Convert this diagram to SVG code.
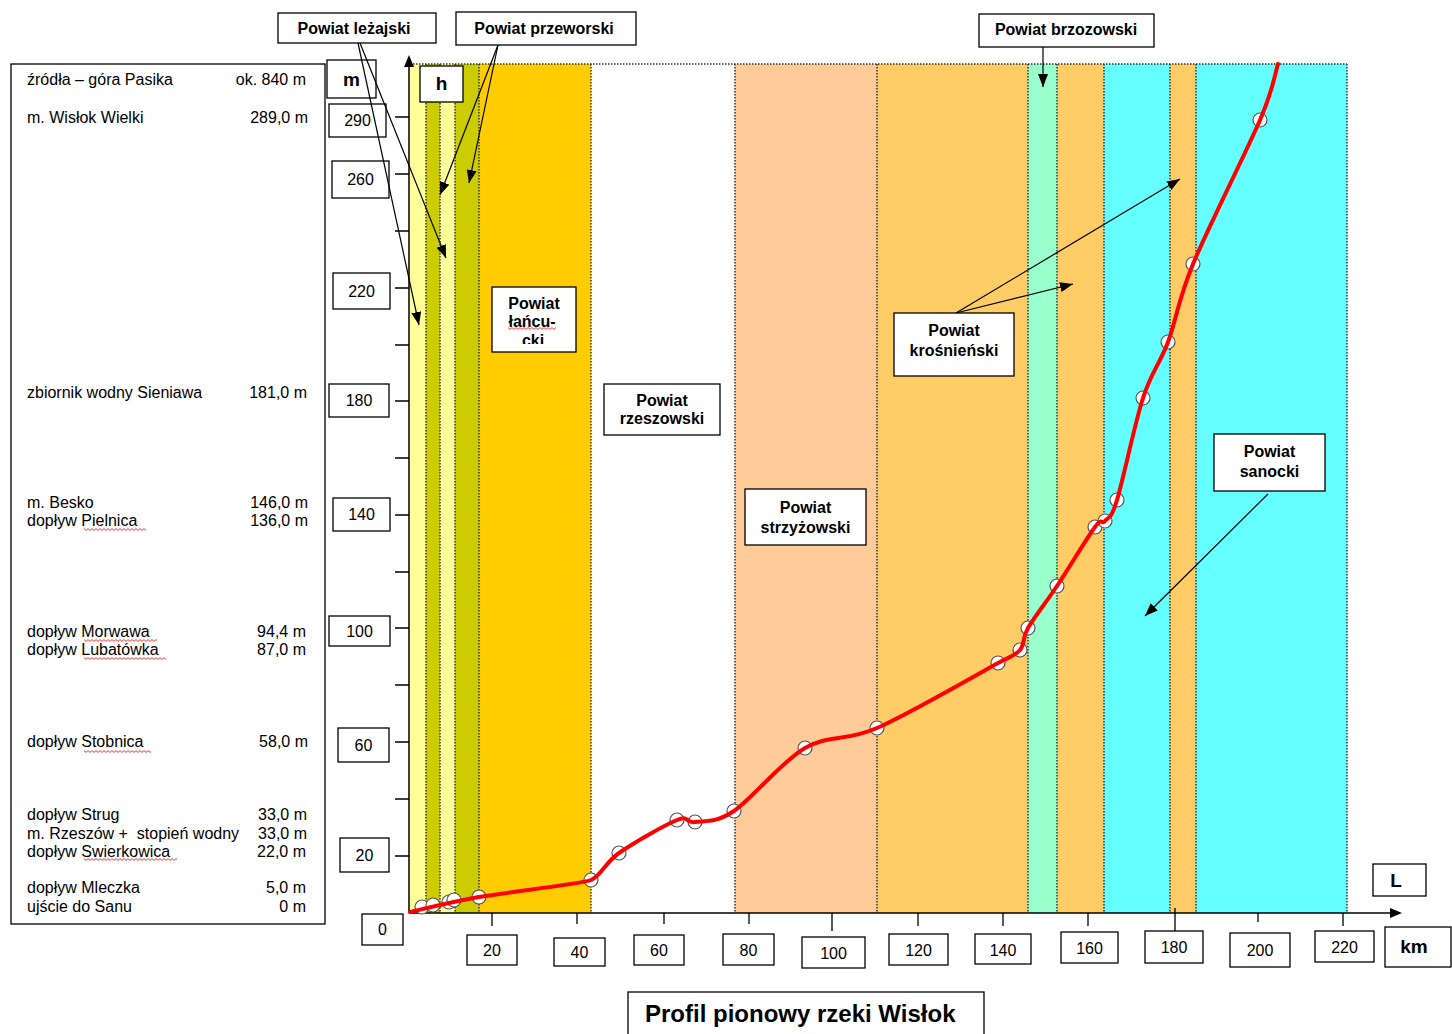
<svg xmlns="http://www.w3.org/2000/svg" width="1452" height="1034" viewBox="0 0 1452 1034">
<style>
.t{font-family:"Liberation Sans",Arial,sans-serif;font-size:16px;fill:#000}
.r{text-anchor:end}
.n{font-family:"Liberation Sans",Arial,sans-serif;font-size:16px;fill:#000;text-anchor:middle}
.b{font-family:"Liberation Sans",Arial,sans-serif;font-size:16px;font-weight:bold;fill:#000;text-anchor:middle}
.big{font-family:"Liberation Sans",Arial,sans-serif;font-size:19px;font-weight:bold;fill:#000;text-anchor:middle}
.box{fill:#fff;stroke:#000;stroke-width:1.3}
.dot{stroke:#333;stroke-width:1.5;stroke-dasharray:1.5 1.5;fill:none}
.ax{stroke:#000;stroke-width:1.5;fill:none}
.tk{stroke:#000;stroke-width:1.3}
.con{stroke:#000;stroke-width:1.2;fill:none;marker-end:url(#ah)}
.pt{fill:#fff;stroke:#555;stroke-width:1.2}
.wv{fill:url(#wavy)}
</style>
<defs>
<marker id="ah" markerUnits="userSpaceOnUse" markerWidth="14" markerHeight="12" refX="13" refY="5" orient="auto">
<path d="M0,0 L13,5 L0,10 Z" fill="#000"/>
</marker>
<pattern id="wavy" width="4" height="3" patternUnits="userSpaceOnUse">
<path d="M0,0.6 L2,2.4 L4,0.6" stroke="#e00" stroke-width="0.8" fill="none"/>
</pattern>
<clipPath id="clipL"><rect x="492" y="287" width="84" height="57"/></clipPath>
</defs>

<!-- bands -->
<g id="bands">
<rect x="410" y="64" width="16" height="849" fill="#FFFF99"/>
<rect x="426" y="64" width="14" height="849" fill="#CCCC00"/>
<rect x="440" y="64" width="15" height="849" fill="#FFFF99"/>
<rect x="455" y="64" width="24" height="849" fill="#CCCC00"/>
<rect x="479" y="64" width="112" height="849" fill="#FFCC00"/>
<rect x="591" y="64" width="144" height="849" fill="#FFFFFF"/>
<rect x="735" y="64" width="142" height="849" fill="#FFCC99"/>
<rect x="877" y="64" width="151" height="849" fill="#FFCC66"/>
<rect x="1028" y="64" width="29" height="849" fill="#99FFCC"/>
<rect x="1057" y="64" width="47" height="849" fill="#FFCC66"/>
<rect x="1104" y="64" width="66" height="849" fill="#66FFFF"/>
<rect x="1170" y="64" width="26" height="849" fill="#FFCC66"/>
<rect x="1196" y="64" width="151" height="849" fill="#66FFFF"/>
<path class="dot" d="M410,64 H1347 M426,64 V913 M440,64 V913 M455,64 V913 M479,64 V913 M591,64 V913 M735,64 V913 M877,64 V913 M1028,64 V913 M1057,64 V913 M1104,64 V913 M1170,64 V913 M1196,64 V913 M1347,64 V913"/>
</g>

<!-- left info box -->
<g id="info">
<rect class="box" x="11" y="64" width="314" height="860"/>
<text class="t" x="27" y="85">źródła – góra Pasika</text><text class="t r" x="306" y="85">ok. 840 m</text>
<text class="t" x="27" y="123">m. Wisłok Wielki</text><text class="t r" x="308" y="123">289,0 m</text>
<text class="t" x="27" y="398">zbiornik wodny Sieniawa</text><text class="t r" x="307" y="398">181,0 m</text>
<text class="t" x="27" y="508">m. Besko</text><text class="t r" x="308" y="508">146,0 m</text>
<text class="t" x="27" y="526">dopływ Pielnica</text><text class="t r" x="308" y="526">136,0 m</text>
<text class="t" x="27" y="637">dopływ Morwawa</text><text class="t r" x="306" y="637">94,4 m</text>
<text class="t" x="27" y="655">dopływ Lubatówka</text><text class="t r" x="306" y="655">87,0 m</text>
<text class="t" x="27" y="747">dopływ Stobnica</text><text class="t r" x="308" y="747">58,0 m</text>
<text class="t" x="27" y="820">dopływ Strug</text><text class="t r" x="307" y="820">33,0 m</text>
<text class="t" x="27" y="839" xml:space="preserve">m. Rzeszów +  stopień wodny</text><text class="t r" x="307" y="839">33,0 m</text>
<text class="t" x="27" y="857">dopływ Swierkowica</text><text class="t r" x="306" y="857">22,0 m</text>
<text class="t" x="27" y="893">dopływ Mleczka</text><text class="t r" x="306" y="893">5,0 m</text>
<text class="t" x="27" y="912">ujście do Sanu</text><text class="t r" x="306" y="912">0 m</text>
<rect class="wv" x="84" y="528" width="62" height="3"/>
<rect class="wv" x="84" y="639" width="73" height="3"/>
<rect class="wv" x="84" y="657" width="82" height="3"/>
<rect class="wv" x="84" y="750" width="67" height="3"/>
<rect class="wv" x="84" y="858" width="93" height="3"/>
</g>

<!-- axes -->
<g id="axes">
<path class="ax" d="M409,913 V64 M409,913 H1392"/>
<path d="M409,55 L404,67 L414,67 Z M1402,913 L1390,908 L1390,918 Z" fill="#000"/>
<path class="tk" d="M395,117 H409 M395,174 H409 M395,231 H409 M395,288 H409 M395,345 H409 M395,401 H409 M395,458 H409 M395,515 H409 M395,572 H409 M395,628 H409 M395,685 H409 M395,742 H409 M395,799 H409 M395,856 H409"/>
<path class="tk" d="M492,913 V926 M577,913 V924 M664,913 V924 M749,913 V924 M832,913 V931 M918,913 V926 M1003,913 V926 M1088,913 V926 M1175,908 V936 M1258,913 V922 M1343,913 V926"/>
</g>

<!-- y labels -->
<g id="ylabels">
<rect class="box" x="327" y="60" width="49" height="38"/><text class="big" x="351.5" y="86">m</text>
<rect class="box" x="329" y="104" width="57" height="33"/><text class="n" x="357.5" y="126">290</text>
<rect class="box" x="332" y="161" width="57" height="37"/><text class="n" x="360.5" y="185">260</text>
<rect class="box" x="333" y="273" width="57" height="36"/><text class="n" x="361.5" y="297">220</text>
<rect class="box" x="329" y="384" width="60" height="33"/><text class="n" x="359" y="406">180</text>
<rect class="box" x="333" y="498" width="57" height="33"/><text class="n" x="361.5" y="520">140</text>
<rect class="box" x="329" y="616" width="61" height="30"/><text class="n" x="359.5" y="637">100</text>
<rect class="box" x="338" y="728" width="51" height="34"/><text class="n" x="363.5" y="751">60</text>
<rect class="box" x="340" y="838" width="49" height="34"/><text class="n" x="364.5" y="861">20</text>
<rect class="box" x="362" y="914" width="41" height="31"/><text class="n" x="382.5" y="935">0</text>
</g>

<!-- x labels -->
<g id="xlabels">
<rect class="box" x="467" y="935" width="50" height="30"/><text class="n" x="492" y="956">20</text>
<rect class="box" x="554" y="938" width="51" height="28"/><text class="n" x="579.5" y="958">40</text>
<rect class="box" x="634" y="935" width="50" height="30"/><text class="n" x="659" y="956">60</text>
<rect class="box" x="723" y="934" width="51" height="31"/><text class="n" x="748.5" y="956">80</text>
<rect class="box" x="802" y="937" width="63" height="31"/><text class="n" x="833.5" y="959">100</text>
<rect class="box" x="889" y="934" width="59" height="31"/><text class="n" x="918.5" y="956">120</text>
<rect class="box" x="975" y="934" width="56" height="30"/><text class="n" x="1003" y="956">140</text>
<rect class="box" x="1061" y="932" width="57" height="31"/><text class="n" x="1089.5" y="954">160</text>
<rect class="box" x="1145" y="931" width="58" height="32"/><text class="n" x="1174" y="953">180</text>
<rect class="box" x="1230" y="933" width="60" height="34"/><text class="n" x="1260" y="956">200</text>
<rect class="box" x="1315" y="931" width="59" height="31"/><text class="n" x="1344.5" y="953">220</text>
<rect class="box" x="1385" y="927" width="66" height="40"/><text class="big" x="1414" y="953">km</text>
<rect class="box" x="1373" y="864" width="53" height="32"/><text class="big" x="1396" y="887">L</text>
<rect class="box" x="420" y="66" width="43" height="36"/><text class="big" x="441.5" y="90">h</text>
</g>

<!-- profile curve -->
<g id="profile">
<g class="pts">
<circle class="pt" cx="422" cy="907" r="7"/>
<circle class="pt" cx="433" cy="905" r="7"/>
<circle class="pt" cx="449" cy="902" r="7"/>
<circle class="pt" cx="454" cy="900" r="7"/>
<circle class="pt" cx="479" cy="897" r="7"/>
<circle class="pt" cx="591" cy="880" r="7"/>
<circle class="pt" cx="619" cy="853" r="7"/>
<circle class="pt" cx="677" cy="820" r="7"/>
<circle class="pt" cx="695" cy="822" r="7"/>
<circle class="pt" cx="734" cy="811" r="7"/>
<circle class="pt" cx="805" cy="748" r="7"/>
<circle class="pt" cx="877" cy="728" r="7"/>
<circle class="pt" cx="998" cy="663" r="7"/>
<circle class="pt" cx="1020" cy="650" r="7"/>
<circle class="pt" cx="1028" cy="628" r="7"/>
<circle class="pt" cx="1057" cy="586" r="7"/>
<circle class="pt" cx="1095" cy="527" r="7"/>
<circle class="pt" cx="1105" cy="521" r="7"/>
<circle class="pt" cx="1117" cy="500" r="7"/>
<circle class="pt" cx="1143" cy="398" r="7"/>
<circle class="pt" cx="1168" cy="342" r="7"/>
<circle class="pt" cx="1193" cy="264" r="7"/>
<circle class="pt" cx="1260" cy="120" r="7"/>
</g>
<path d="M410,912 C421.5,909.5 448.8,902.3 479,897 C509.2,891.7 581,884 591,880 C601,876 604.7,863 619,853 C633.3,843 664.3,825.2 677,820 C689.7,814.8 685.5,823.5 695,822 C704.5,820.5 715.7,823.3 734,811 C752.3,798.7 781.2,761.8 805,748 C828.8,734.2 844.8,742.2 877,728 C909.2,713.8 986,669.5 998,663 C1010,656.5 1015,655.8 1020,650 C1025,644.2 1021.8,638.7 1028,628 C1034.2,617.3 1045.8,602.8 1057,586 C1068.2,569.2 1087,537.8 1095,527 C1103,516.2 1101.3,525.5 1105,521 C1108.7,516.5 1110.7,520.5 1117,500 C1123.3,479.5 1134.5,424.3 1143,398 C1151.5,371.7 1159.7,364.3 1168,342 C1176.3,319.7 1177.7,301 1193,264 C1208.3,227 1245.8,153.3 1260,120 C1274.2,86.7 1275,73.3 1278,64" fill="none" stroke="#FF0000" stroke-width="4" stroke-linecap="round" stroke-linejoin="round"/>
</g>

<!-- connectors -->
<g id="connectors">
<line class="con" x1="358" y1="43" x2="419" y2="325"/>
<line class="con" x1="360" y1="43" x2="446" y2="258"/>
<line class="con" x1="498" y1="45" x2="440" y2="195"/>
<line class="con" x1="498" y1="45" x2="469" y2="183"/>
<line class="con" x1="1043" y1="47" x2="1043" y2="87"/>
<line class="con" x1="956" y1="313" x2="1180" y2="179"/>
<line class="con" x1="956" y1="313" x2="1073" y2="284"/>
<line class="con" x1="1268" y1="494" x2="1145" y2="616"/>
</g>

<!-- district nodes -->
<g id="lezajski"><rect class="box" x="278" y="13" width="158" height="30"/><text class="b" x="354" y="34">Powiat leżajski</text></g>
<g id="przeworski"><rect class="box" x="456" y="12" width="180" height="33"/><text class="b" x="544" y="34">Powiat przeworski</text></g>
<g id="brzozowski"><rect class="box" x="979" y="14" width="175" height="33"/><text class="b" x="1066" y="35">Powiat brzozowski</text></g>
<g id="lancucki"><rect class="box" x="492" y="287" width="84" height="65"/>
<g clip-path="url(#clipL)"><text class="b" x="534" y="309">Powiat</text><text class="b" x="532" y="327">łańcu-</text><text class="b" x="533" y="346">cki</text></g>
<rect class="wv" x="508" y="327" width="48" height="3"/></g>
<g id="rzeszowski"><rect class="box" x="604" y="384" width="116" height="51"/><text class="b" x="662" y="406">Powiat</text><text class="b" x="662" y="424">rzeszowski</text></g>
<g id="strzyzowski"><rect class="box" x="745" y="489" width="121" height="56"/><text class="b" x="805.5" y="513">Powiat</text><text class="b" x="805.5" y="533">strzyżowski</text></g>
<g id="krosnienski"><rect class="box" x="894" y="313" width="120" height="63"/><text class="b" x="954" y="336">Powiat</text><text class="b" x="954" y="356">krośnieński</text></g>
<g id="sanocki"><rect class="box" x="1214" y="434" width="111" height="57"/><text class="b" x="1269.5" y="457">Powiat</text><text class="b" x="1269.5" y="477">sanocki</text></g>

<g id="title"><rect class="box" x="628" y="992" width="356" height="50"/><text font-family="Liberation Sans, Arial, sans-serif" font-size="24" font-weight="bold" x="645" y="1022">Profil pionowy rzeki Wisłok</text></g>
</svg>
